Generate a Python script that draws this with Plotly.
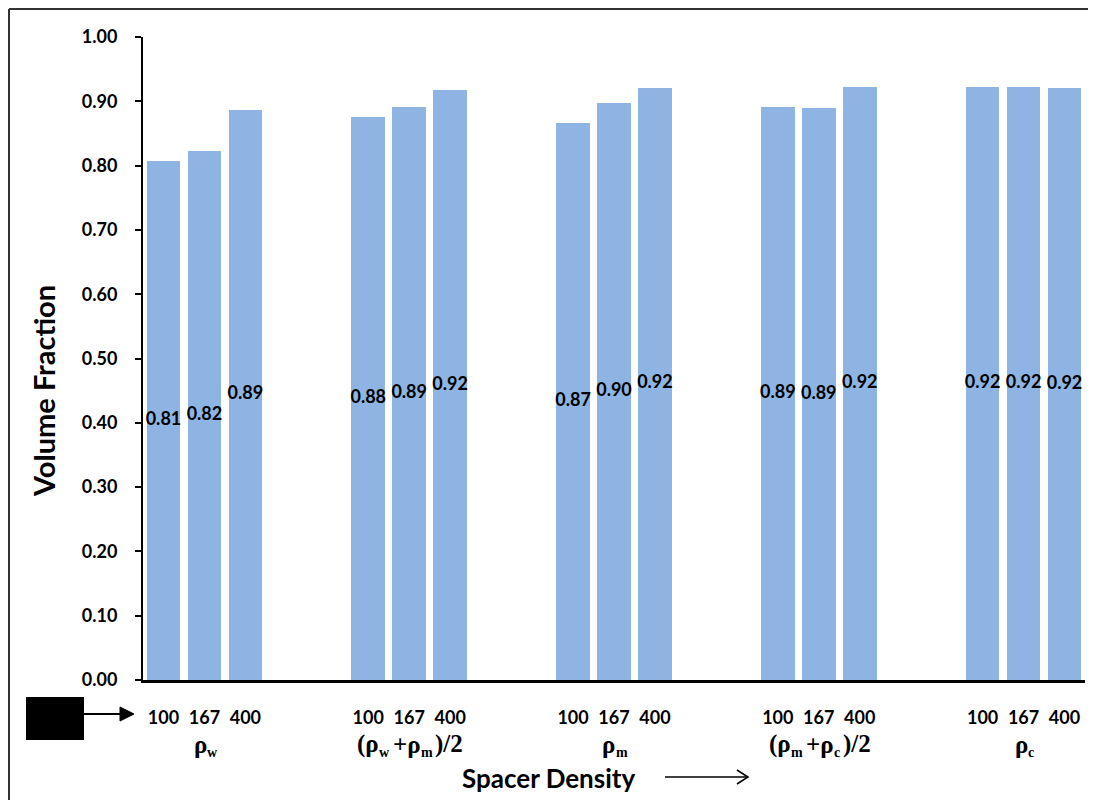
import plotly.graph_objects as go

# ---- data ----
# group labels as pieces: (text, is_subscript, gap_before_px)
group_labels = [
    [("ρ", 0, 0), ("w", 1, 0)],
    [("(ρ", 0, 0), ("w", 1, 0), ("+ρ", 0, 3), ("m", 1, 0), (")/2", 0, 3)],
    [("ρ", 0, 0), ("m", 1, 0)],
    [("(ρ", 0, 0), ("m", 1, 0), ("+ρ", 0, 3), ("c", 1, 0), (")/2", 0, 3)],
    [("ρ", 0, 0), ("c", 1, 0)],
]
sub_labels = ["100", "167", "400"]
g1 = [0.807, 0.822, 0.887]
g2 = [0.876, 0.891, 0.917]
g3 = [0.867, 0.898, 0.921]
g4 = [0.891, 0.889, 0.922]
g5 = [0.922, 0.922, 0.920]
values = [g1, g2, g3, g4, g5]
y_ticks = [0.0, 0.1, 0.2, 0.3, 0.4, 0.5, 0.6, 0.7, 0.8, 0.9, 1.0]

GAP = 5  # 3 bars + 2 empty slots per group
xs, ys, tick_text = [], [], []
for gi, vals in enumerate(values):
    for j, v in enumerate(vals):
        xs.append(gi * GAP + j)
        ys.append(v)
        tick_text.append(sub_labels[j])

# page offset of the figure inside the browser (body margin)
OFF = 8
W, H = 1096 - OFF, 800 - OFF
PL, PR, PT, PB = 143, 1085, 37, 680
L, T = PL - OFF, PT - OFF
R = W - (PR - OFF)
B = H - (PB - OFF)
PW, PH = PR - PL, PB - PT
def px(x):
    return (x - PL) / PW
def py(y):
    return (PB - y) / PH

SANS = "Lato, 'Open Sans', sans-serif"
SERIF = "'Liberation Serif', 'DejaVu Serif', serif"
MAIN_SIZE, SUB_SIZE = 25, 14
# approximate advance widths (em) for bold serif
EM = {"(": 0.333, ")": 0.333, "+": 0.570, "/": 0.278, "2": 0.5, "ρ": 0.55,
      "w": 0.722, "m": 0.833, "c": 0.444}
def text_w(s, size):
    return sum(EM.get(ch, 0.5) for ch in s) * size

fig = go.Figure()
fig.add_trace(go.Bar(
    x=xs, y=ys, width=0.82,
    marker=dict(color="#8EB4E3", line=dict(width=0)),
    hoverinfo="x+y",
))
fig.add_trace(go.Scatter(
    x=xs, y=[v / 2 for v in ys], mode="text",
    text=[f"{v:.2f}" for v in ys],
    textfont=dict(family=SANS, size=18, color="black", weight="bold"),
    textposition="middle center", hoverinfo="skip",
))

annotations = []
for gi, pieces in enumerate(group_labels):
    total = sum(text_w(t, SUB_SIZE if s else MAIN_SIZE) + g for t, s, g in pieces)
    cur = -total / 2
    for t, s, g in pieces:
        cur += g
        size = SUB_SIZE if s else MAIN_SIZE
        annotations.append(dict(
            x=gi * GAP + 1, y=py(744), xref="x", yref="paper",
            xshift=cur, yshift=-8 if s else 0,
            text="<b>" + t + "</b>", showarrow=False, borderpad=0,
            font=dict(family=SERIF, size=size, color="black"),
            xanchor="left", yanchor="middle",
        ))
        cur += text_w(t, size)

annotations += [
    dict(x=px(548), y=py(778), xref="paper", yref="paper",
         text="<b>Spacer Density</b>", showarrow=False,
         font=dict(family=SANS, size=26, color="black"),
         xanchor="center", yanchor="middle"),
    dict(x=px(44), y=py(391), xref="paper", yref="paper",
         text="<b>Volume Fraction</b>", showarrow=False, textangle=-90,
         font=dict(family=SANS, size=29, color="black"),
         xanchor="center", yanchor="middle"),
]

shapes = [
    # black box
    dict(type="rect", xref="paper", yref="paper",
         x0=px(26), x1=px(84), y0=py(740), y1=py(697),
         fillcolor="black", line=dict(width=0)),
    # arrow from box to first tick labels
    dict(type="line", xref="paper", yref="paper",
         x0=px(84), x1=px(122), y0=py(714), y1=py(714),
         line=dict(color="black", width=2)),
    dict(type="path", xref="paper", yref="paper",
         path=f"M {px(120)},{py(707)} L {px(134)},{py(714)} L {px(120)},{py(721)} Z",
         fillcolor="black", line=dict(color="black", width=1)),
    # arrow next to "Spacer Density"
    dict(type="line", xref="paper", yref="paper",
         x0=px(665), x1=px(748), y0=py(777), y1=py(777),
         line=dict(color="black", width=1.5)),
    dict(type="path", xref="paper", yref="paper",
         path=f"M {px(737)},{py(770)} L {px(748)},{py(777)} L {px(737)},{py(784)}",
         line=dict(color="black", width=1.5)),
    # frame (top and left)
    dict(type="line", xref="paper", yref="paper",
         x0=px(9), x1=px(1110), y0=py(9), y1=py(9),
         line=dict(color="#333333", width=2)),
    dict(type="line", xref="paper", yref="paper",
         x0=px(9), x1=px(9), y0=py(9), y1=py(820),
         line=dict(color="#333333", width=2)),
]

fig.update_layout(
    width=W, height=H,
    margin=dict(l=L, r=R, t=T, b=B),
    plot_bgcolor="white", paper_bgcolor="white",
    showlegend=False, bargap=0,
    annotations=annotations, shapes=shapes,
    xaxis=dict(
        range=[-0.5, len(values) * GAP - GAP + 2.5],
        tickmode="array", tickvals=xs, ticktext=tick_text,
        tickfont=dict(family=SANS, size=18, color="black", weight="bold"),
        showgrid=False, zeroline=False, ticks="",
        showline=True, linecolor="black", linewidth=3,
        ticklabelstandoff=19,
    ),
    yaxis=dict(
        range=[0, 1.0], tickmode="array", tickvals=y_ticks,
        ticktext=[f"{t:.2f}" for t in y_ticks],
        tickfont=dict(family=SANS, size=18, color="black", weight="bold"),
        showgrid=False, zeroline=False,
        ticks="outside", ticklen=6, tickwidth=2, tickcolor="black",
        showline=True, linecolor="black", linewidth=2,
        ticklabelstandoff=14,
    ),
)

fig.write_html("out.html")
